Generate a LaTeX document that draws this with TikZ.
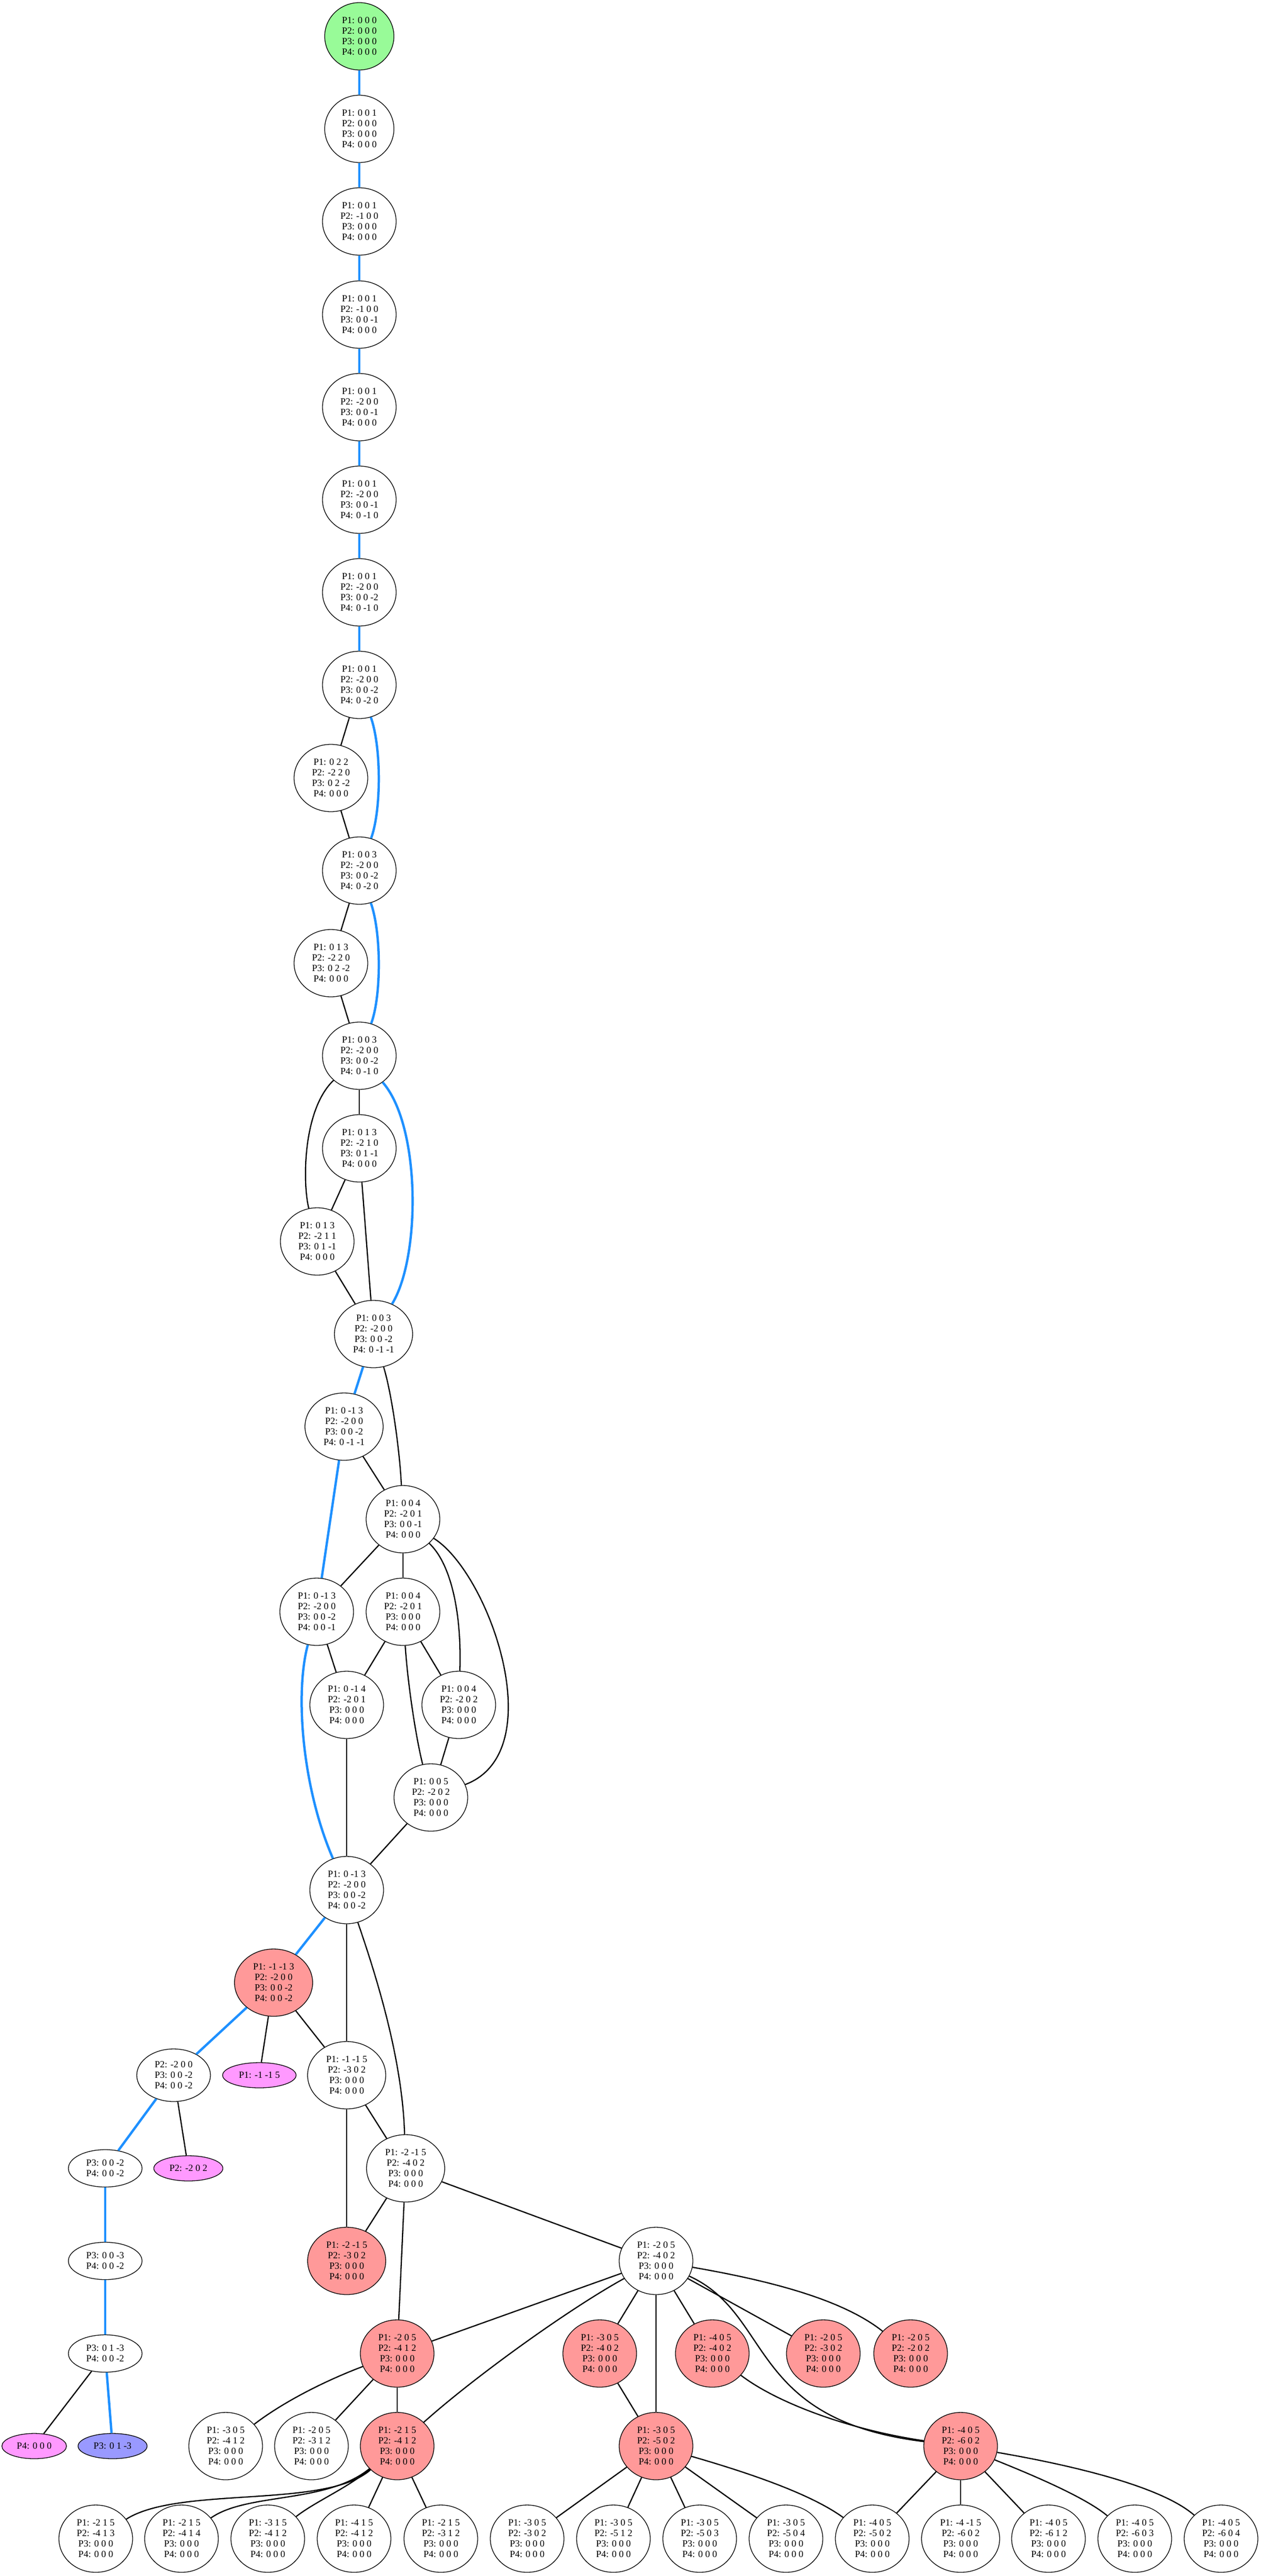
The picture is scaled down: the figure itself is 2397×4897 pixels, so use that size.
\documentclass[tikz,border=0pt]{standalone}
\usepackage{fontspec}
\setmainfont{Liberation Serif}
\usetikzlibrary{shapes.geometric}
\definecolor{gfill}{HTML}{98FB98}
\definecolor{rfill}{HTML}{FF9999}
\definecolor{pfill}{HTML}{FF99FF}
\definecolor{bfill}{HTML}{9999FF}
\definecolor{bedge}{HTML}{1E90FF}
\newcommand\mylab[2]{P1: #1\\P2: #2\\P3: 0 0 0\\P4: 0 0 0}
\begin{document}
\begin{tikzpicture}[x=1pt,y=1pt,
  st/.style={ellipse, draw=black, line width=1.3pt, font=\fontsize{18}{20}\selectfont,
             align=center, inner xsep=13.5pt, inner ysep=0pt},
  four/.style={st, minimum height=128pt},
  three/.style={st, minimum height=100pt},
  two/.style={st, minimum height=71pt},
  one/.style={st, minimum height=48pt, inner xsep=10.4pt},
  gnode/.style={fill=gfill},
  rnode/.style={fill=rfill},
  pnode/.style={fill=pfill},
  bnode/.style={fill=bfill},
  blk/.style={line width=2.3pt, black},
  blu/.style={line width=4.5pt, bedge}]
\useasboundingbox (0,0) rectangle (2397,-4897);
% main chain
\node[four,gnode] (n0) at (683,-69) {P1: 0 0 0\\P2: 0 0 0\\P3: 0 0 0\\P4: 0 0 0};
\node[four] (n1) at (683,-245) {P1: 0 0 1\\P2: 0 0 0\\P3: 0 0 0\\P4: 0 0 0};
\node[four] (n2) at (683,-421) {P1: 0 0 1\\P2: -1 0 0\\P3: 0 0 0\\P4: 0 0 0};
\node[four] (n3) at (683,-598) {P1: 0 0 1\\P2: -1 0 0\\P3: 0 0 -1\\P4: 0 0 0};
\node[four] (n4) at (683,-774) {P1: 0 0 1\\P2: -2 0 0\\P3: 0 0 -1\\P4: 0 0 0};
\node[four] (n5) at (683,-950) {P1: 0 0 1\\P2: -2 0 0\\P3: 0 0 -1\\P4: 0 -1 0};
\node[four] (n6) at (683,-1126) {P1: 0 0 1\\P2: -2 0 0\\P3: 0 0 -2\\P4: 0 -1 0};
\node[four] (n7) at (683,-1302) {P1: 0 0 1\\P2: -2 0 0\\P3: 0 0 -2\\P4: 0 -2 0};
\node[four] (n8) at (629,-1479) {P1: 0 2 2\\P2: -2 2 0\\P3: 0 2 -2\\P4: 0 0 0};
\node[four] (n9) at (683,-1655) {P1: 0 0 3\\P2: -2 0 0\\P3: 0 0 -2\\P4: 0 -2 0};
\node[four] (n10) at (629,-1831) {P1: 0 1 3\\P2: -2 2 0\\P3: 0 2 -2\\P4: 0 0 0};
\node[four] (n11) at (683,-2007) {P1: 0 0 3\\P2: -2 0 0\\P3: 0 0 -2\\P4: 0 -1 0};
\node[four] (n12) at (683,-2183) {P1: 0 1 3\\P2: -2 1 0\\P3: 0 1 -1\\P4: 0 0 0};
\node[four] (n13) at (603,-2360) {P1: 0 1 3\\P2: -2 1 1\\P3: 0 1 -1\\P4: 0 0 0};
\node[four] (n14) at (710,-2536) {P1: 0 0 3\\P2: -2 0 0\\P3: 0 0 -2\\P4: 0 -1 -1};
\node[four] (n15) at (654,-2712) {P1: 0 -1 3\\P2: -2 0 0\\P3: 0 0 -2\\P4: 0 -1 -1};
\node[four] (n16) at (766,-2888) {P1: 0 0 4\\P2: -2 0 1\\P3: 0 0 -1\\P4: 0 0 0};
\node[four] (n17a) at (602,-3064) {P1: 0 -1 3\\P2: -2 0 0\\P3: 0 0 -2\\P4: 0 0 -1};
\node[four] (n17b) at (766,-3064) {P1: 0 0 4\\P2: -2 0 1\\P3: 0 0 0\\P4: 0 0 0};
\node[four] (n18a) at (659,-3241) {P1: 0 -1 4\\P2: -2 0 1\\P3: 0 0 0\\P4: 0 0 0};
\node[four] (n18b) at (872,-3241) {P1: 0 0 4\\P2: -2 0 2\\P3: 0 0 0\\P4: 0 0 0};
\node[four] (n19) at (819,-3417) {P1: 0 0 5\\P2: -2 0 2\\P3: 0 0 0\\P4: 0 0 0};
\node[four] (n20) at (659,-3593) {P1: 0 -1 3\\P2: -2 0 0\\P3: 0 0 -2\\P4: 0 0 -2};
\node[four,rnode] (n21) at (520,-3769) {P1: -1 -1 3\\P2: -2 0 0\\P3: 0 0 -2\\P4: 0 0 -2};
\node[three] (n22a) at (330,-3945) {P2: -2 0 0\\P3: 0 0 -2\\P4: 0 0 -2};
\node[one,pnode] (n22b) at (493,-3945) {P1: -1 -1 5};
\node[four] (n22c) at (659,-3945) {P1: -1 -1 5\\P2: -3 0 2\\P3: 0 0 0\\P4: 0 0 0};
\node[two] (n23a) at (200,-4122) {P3: 0 0 -2\\P4: 0 0 -2};
\node[one,pnode] (n23b) at (358,-4122) {P2: -2 0 2};
\node[four] (n23c) at (771,-4122) {\mylab{-2 -1 5}{-4 0 2}};
\node[two] (n24a) at (200,-4298) {P3: 0 0 -3\\P4: 0 0 -2};
\node[four,rnode] (n24b) at (659,-4298) {\mylab{-2 -1 5}{-3 0 2}};
\node[four] (n24c) at (1247,-4298) {\mylab{-2 0 5}{-4 0 2}};
\node[two] (n25a) at (200,-4474) {P3: 0 1 -3\\P4: 0 0 -2};
\node[four,rnode] (n25b) at (755,-4474) {\mylab{-2 0 5}{-4 1 2}};
\node[four,rnode] (n25c) at (1140,-4474) {\mylab{-3 0 5}{-4 0 2}};
\node[four,rnode] (n25d) at (1354,-4474) {\mylab{-4 0 5}{-4 0 2}};
\node[four,rnode] (n25e) at (1565,-4474) {\mylab{-2 0 5}{-3 0 2}};
\node[four,rnode] (n25f) at (1731,-4474) {\mylab{-2 0 5}{-2 0 2}};
\node[one,pnode] (n26a) at (65,-4650) {P4: 0 0 0};
\node[one,bnode] (n26b) at (214,-4650) {P3: 0 1 -3};
\node[four] (n26c) at (429,-4650) {\mylab{-3 0 5}{-4 1 2}};
\node[four] (n26d) at (592,-4650) {\mylab{-2 0 5}{-3 1 2}};
\node[four,rnode] (n26e) at (755,-4650) {\mylab{-2 1 5}{-4 1 2}};
\node[four,rnode] (n26f) at (1247,-4650) {\mylab{-3 0 5}{-5 0 2}};
\node[four,rnode] (n26g) at (1826,-4650) {\mylab{-4 0 5}{-6 0 2}};
\node[four] (b1) at (182,-4826) {\mylab{-2 1 5}{-4 1 3}};
\node[four] (b2) at (345,-4826) {\mylab{-2 1 5}{-4 1 4}};
\node[four] (b3) at (509,-4826) {\mylab{-3 1 5}{-4 1 2}};
\node[four] (b4) at (673,-4826) {\mylab{-4 1 5}{-4 1 2}};
\node[four] (b5) at (838,-4826) {\mylab{-2 1 5}{-3 1 2}};
\node[four] (b6) at (1002,-4826) {\mylab{-3 0 5}{-3 0 2}};
\node[four] (b7) at (1166,-4826) {\mylab{-3 0 5}{-5 1 2}};
\node[four] (b8) at (1330,-4826) {\mylab{-3 0 5}{-5 0 3}};
\node[four] (b9) at (1494,-4826) {\mylab{-3 0 5}{-5 0 4}};
\node[four] (b10) at (1658,-4826) {\mylab{-4 0 5}{-5 0 2}};
\node[four] (b11) at (1826,-4826) {\mylab{-4 -1 5}{-6 0 2}};
\node[four] (b12) at (1993,-4826) {\mylab{-4 0 5}{-6 1 2}};
\node[four] (b13) at (2157,-4826) {\mylab{-4 0 5}{-6 0 3}};
\node[four] (b14) at (2321,-4826) {\mylab{-4 0 5}{-6 0 4}};
% blue edges
\draw[blu] (n0) -- (n1);
\draw[blu] (n1) -- (n2);
\draw[blu] (n2) -- (n3);
\draw[blu] (n3) -- (n4);
\draw[blu] (n4) -- (n5);
\draw[blu] (n5) -- (n6);
\draw[blu] (n6) -- (n7);
\draw[blu] (n7) .. controls (725,-1420) and (725,-1540) .. (n9);
\draw[blu] (n9) .. controls (725,-1773) and (725,-1893) .. (n11);
\draw[blu] (n11) .. controls (800,-2140) and (800,-2390) .. (n14);
\draw[blu] (n14) -- (n15);
\draw[blu] (n15) -- (n17a);
\draw[blu] (n17a) .. controls (560,-3220) and (575,-3400) .. (n20);
\draw[blu] (n20) -- (n21);
\draw[blu] (n21) -- (n22a);
\draw[blu] (n22a) -- (n23a);
\draw[blu] (n23a) -- (n24a);
\draw[blu] (n24a) -- (n25a);
\draw[blu] (n25a) -- (n26b);
% black edges
\draw[blk] (n7) -- (n8);
\draw[blk] (n8) -- (n9);
\draw[blk] (n9) -- (n10);
\draw[blk] (n10) -- (n11);
\draw[blk] (n11) -- (n12);
\draw[blk] (n11) .. controls (575,-2110) and (575,-2250) .. (n13);
\draw[blk] (n12) -- (n13);
\draw[blk] (n12) -- (n14);
\draw[blk] (n13) -- (n14);
\draw[blk] (n14) .. controls (745,-2650) and (760,-2760) .. (n16);
\draw[blk] (n15) -- (n16);
\draw[blk] (n16) -- (n17a);
\draw[blk] (n16) -- (n17b);
\draw[blk] (n16) .. controls (855,-2970) and (878,-3060) .. (n18b);
\draw[blk] (n16) .. controls (930,-2990) and (1050,-3330) .. (n19);
\draw[blk] (n17a) -- (n18a);
\draw[blk] (n17b) -- (n18a);
\draw[blk] (n17b) -- (n18b);
\draw[blk] (n17b) .. controls (775,-3200) and (790,-3300) .. (n19);
\draw[blk] (n18a) -- (n20);
\draw[blk] (n18b) -- (n19);
\draw[blk] (n19) -- (n20);
\draw[blk] (n20) -- (n22c);
\draw[blk] (n20) .. controls (720,-3770) and (765,-3920) .. (n23c);
\draw[blk] (n21) -- (n22b);
\draw[blk] (n21) -- (n22c);
\draw[blk] (n22a) -- (n23b);
\draw[blk] (n22c) -- (n23c);
\draw[blk] (n22c) -- (n24b);
\draw[blk] (n23c) -- (n24b);
\draw[blk] (n23c) -- (n25b);
\draw[blk] (n23c) -- (n24c);
\draw[blk] (n25a) -- (n26a);
\draw[blk] (n24c) -- (n25b);
\draw[blk] (n24c) .. controls (1080,-4390) and (900,-4520) .. (n26e);
\draw[blk] (n24c) -- (n25c);
\draw[blk] (n24c) -- (n26f);
\draw[blk] (n24c) -- (n25d);
\draw[blk] (n24c) -- (n25e);
\draw[blk] (n24c) .. controls (1470,-4400) and (1420,-4600) .. (n26g);
\draw[blk] (n24c) .. controls (1460,-4335) and (1600,-4370) .. (n25f);
\draw[blk] (n25b) .. controls (620,-4525) and (540,-4565) .. (n26c);
\draw[blk] (n25b) -- (n26d);
\draw[blk] (n25b) -- (n26e);
\draw[blk] (n25c) -- (n26f);
\draw[blk] (n25d) .. controls (1480,-4570) and (1620,-4620) .. (n26g);
\draw[blk] (n26e) .. controls (620,-4770) and (340,-4725) .. (b1);
\draw[blk] (n26e) .. controls (620,-4760) and (470,-4738) .. (b2);
\draw[blk] (n26e) .. controls (660,-4730) and (600,-4755) .. (b3);
\draw[blk] (n26e) -- (b4);
\draw[blk] (n26e) -- (b5);
\draw[blk] (n26f) -- (b6);
\draw[blk] (n26f) -- (b7);
\draw[blk] (n26f) -- (b8);
\draw[blk] (n26f) -- (b9);
\draw[blk] (n26f) .. controls (1420,-4700) and (1540,-4740) .. (b10);
\draw[blk] (n26g) -- (b10);
\draw[blk] (n26g) -- (b11);
\draw[blk] (n26g) -- (b12);
\draw[blk] (n26g) .. controls (1950,-4700) and (2060,-4745) .. (b13);
\draw[blk] (n26g) .. controls (2000,-4680) and (2200,-4720) .. (b14);
\end{tikzpicture}
\end{document}
